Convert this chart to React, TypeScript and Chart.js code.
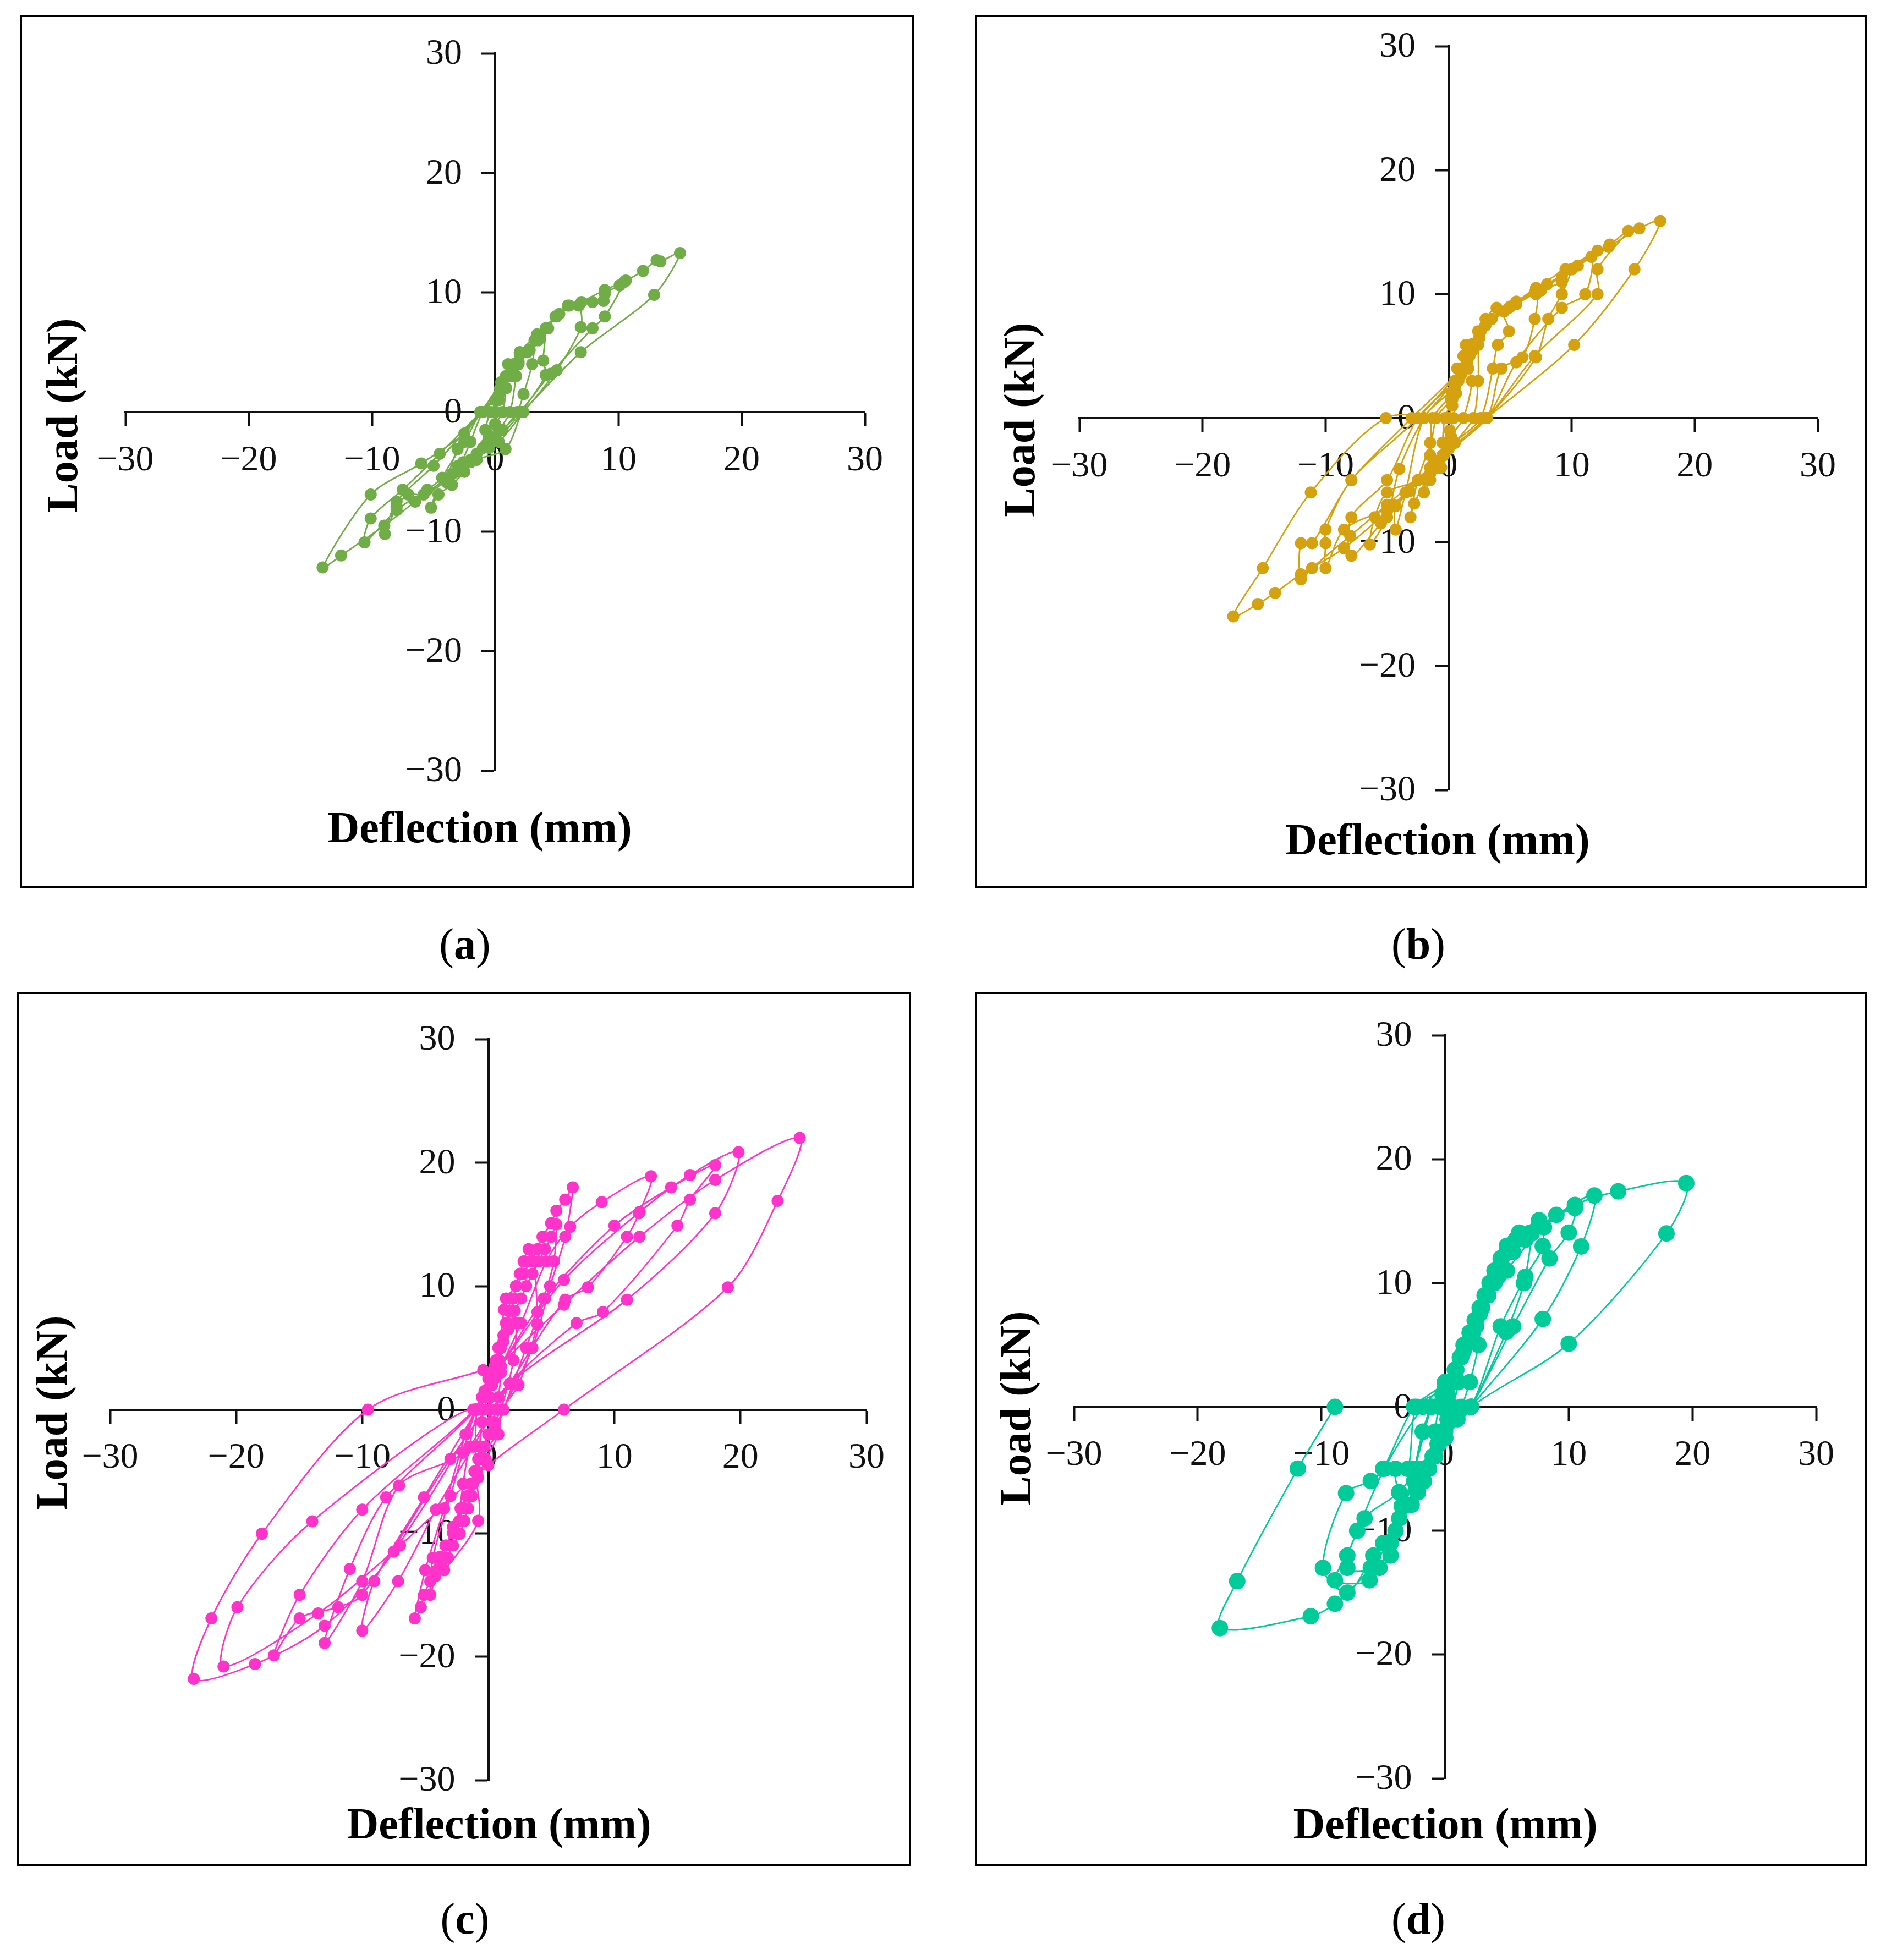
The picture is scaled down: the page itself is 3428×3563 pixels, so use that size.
import React, { useEffect, useRef } from "react";
import { Chart, registerables } from "chart.js";

Chart.register(...registerables);

// ---------------- Data (deflection in mm, load in kN) ----------------
const TICK_STEP = 10;
const AXIS_MIN = -30;
const AXIS_MAX = 30;

// (a)
const aDefl = [
  0, 0.3, 0.6, 0.85, 1.05, 0.9, 0.6, 0, -0.5, -1.0, -0.8, -0.4,
  0.2, 0.6, 1.0, 1.5, 2.0, 1.7, 1.2, 0.3, -0.6, -1.5, -2.6, -2.0, -1.0,
  0, 0.7, 1.3, 1.9, 2.6, 3.2, 3.0, 2.3, 1.8, 0.6, -0.8, -2.0, -3.0, -3.9, -3.05, -1.16,
  0.3, 1.0, 1.9, 2.8, 3.6, 4.1, 3.9, 4.1, 2.2, 0.84, -1.5, -2.5, -3.5, -4.6, -5.2, -4.3, -2.5, -1.16,
  0.4, 1.5, 2.6, 3.5, 4.3, 4.9, 5.9, 6.8, 6.95, 5.0, 2.3, 0.3, -2.0, -4.0, -5.8, -7.05, -8.0, -8.95, -8.0, -5.0, -1.16,
  0.5, 2.0, 3.2, 4.2, 5.0, 6.0, 7.9, 8.8, 8.9, 10.1, 10.5, 8.9, 7.9, 4.5, 2.0, -0.5, -3.0, -5.5, -8.0, -10.6, -10.1, -7.5, -4.5, -1.2,
  0.5, 2.0, 3.4, 5.2, 7.0, 8.9, 10.6, 12.0, 13.1, 13.4, 15.0, 12.9, 6.95, 2.2, -0.5, -3.5, -6.5, -9.0, -12.5, -14.0, -10.1, -6.0, -2.5, -1.2, 0,
];
const aLoad = [
  0, 1, 2, 3, 4, 2, 0, -1, -2, -3, -1.5, 0,
  1, 2, 3, 4, 5, 3, 0, -1.5, -2.5, -3.5, -4.2, -2.5, 0,
  1, 2, 3, 4, 5, 6, 4, 1.5, 0, -1.5, -2.8, -4, -5, -5.9, -3.1, 0,
  1.5, 3, 4.2, 5.2, 6.2, 7, 4.3, 3.1, 0, -3.1, -4, -5, -6.1, -6.9, -8, -5.5, -2.5, 0,
  2, 3.6, 5, 6, 7, 8, 8.9, 8.9, 7.1, 3.5, 0, -2.5, -4.2, -5.8, -6.9, -6.9, -7.95, -10.2, -7.5, -4.5, 0,
  2.5, 4.8, 6, 7, 8, 8.9, 9.2, 9.3, 9.9, 10.6, 10.9, 8.0, 7.0, 3.2, 0, -2.5, -4.5, -6.5, -8.2, -10.9, -8.9, -6.5, -3.5, 0,
  2.5, 5, 6.5, 8.2, 9.2, 10.2, 11, 11.8, 12.7, 12.6, 13.3, 9.8, 5.0, 0, -3, -5.2, -7.5, -9.5, -12.0, -13.0, -6.9, -4.3, -1.8, 0, 0,
];

// (b)
const bDefl = [
  0, 0.3, 0.5, 0.6, 0.7, 0.6, 0.4, 0.1, -0.2, -0.4, -0.6, -0.5, -0.3,
  0.3, 0.6, 0.9, 1.2, 1.4, 1.6, 1.9, 1.2, 0.2, -0.4, -0.9, -1.5, -2.0, -1.5, -1.0,
  0.2, 0.8, 1.2, 1.6, 2.0, 2.4, 2.4, 2.4, 2.0, 0.5, -0.8, -1.8, -2.8, -3.1, -2.5, -1.5, -1.3,
  0.3, 1.0, 1.7, 2.3, 2.6, 3.0, 3.9, 4.9, 4.0, 3.6, 2.6, 0.5, -1.5, -3.2, -4.3, -4.3, -3.5, -2.0,
  0.5, 1.5, 2.5, 3.5, 4.9, 7.1, 7.0, 6.0, 4.3, 3.1, 0, -2.5, -5.0, -6.0, -6.4, -5.0, -4.0, -2.0,
  0.5, 2.0, 3.5, 5.5, 7.5, 9.2, 10.0, 9.2, 8.1, 7.1, 3.1, -0.5, -3.2, -5.5, -7.9, -7.9, -5.0, -2.5,
  1.0, 2.5, 4.5, 7.0, 9.2, 11.6, 11.1, 9.2, 5.5, 3.1, -1.0, -4.5, -8.5, -10.0, -10.0, -10.0, -7.9, -2.5,
  1.0, 3.0, 5.0, 7.1, 9.5, 12.1, 13.1, 14.6, 12.1, 12.1, 7.0, 3.1, -1.5, -5.0, -8.0, -11.1, -12.0, -12.0, -11.1, -7.9, -3.0,
  1.0, 3.0, 5.5, 8.0, 10.5, 13.0, 15.5, 17.2, 15.1, 10.2, 3.1, -1.5, -5.0, -8.5, -12.0, -14.1, -15.5, -17.5, -15.1, -11.2, -5.1, 0,
];
const bLoad = [
  0, 1, 2, 3, 4, 2, 0, -1, -2, -3, -4, -2, 0,
  1.5, 3, 4, 5, 5.9, 4, 3.0, 0, -1.5, -3, -4, -5, -6.0, -3, 0,
  1.5, 3, 4, 5, 6, 7, 5.9, 3.0, 0, -2, -3.5, -5, -6.9, -8, -5, -2, 0,
  2, 3.5, 5, 6, 7, 8, 8.9, 7.0, 5.9, 4.0, 0, -2, -4.5, -5.9, -7.1, -9.0, -6, 0,
  2.5, 4.5, 6.5, 8, 8.9, 10.0, 8.0, 4.9, 4.0, 0, -2.5, -5, -6.0, -8.0, -10.2, -8.0, -4.1, 0,
  3, 5.5, 8, 9.2, 10.3, 11.0, 12.0, 10.0, 8.0, 4.9, 0, -3, -5.9, -8.5, -11.1, -8.0, -5.0, 0,
  3.5, 6.5, 8.6, 10.1, 11.4, 13.0, 10.0, 8.9, 4.5, 0, -3.5, -7.0, -9.0, -12.1, -10.1, -9.0, -5.0, 0,
  4, 7.5, 9.0, 10.5, 12, 13.5, 14.0, 15.1, 12.0, 10.0, 5.0, 0, -4, -7.0, -9.5, -12.1, -13.0, -10.1, -10.1, -5.0, 0,
  4, 7.5, 9.4, 10.8, 12.3, 13.8, 15.3, 15.9, 12.0, 5.9, 0, -4, -7.5, -10.5, -12.6, -14.1, -15.0, -16.0, -12.1, -6.0, 0, 0,
];

// (c)
const cDefl = [
  0, 0.1, 0.3, 0.4, 0.6, 0.8, 1.0, 0.8, 0.6, 0.3, 0, -0.3, -0.6, -0.9, -0.7, -0.5, -0.4,
  0, 0.3, 0.6, 0.8, 1.0, 1.2, 1.4, 1.6, 1.8, 2.2, 2.0, 1.0, 0.5, 0, -0.4, -0.8, -1.1, -1.4, -1.7, -2.0, -2.3, -2.0, -1.5, -0.8,
  -0.2, 0.4, 0.9, 1.2, 1.5, 1.8, 2.0, 2.2, 2.5, 2.8, 3.2, 3.6, 3.9, 3.9, 2.4, 1.1, 0.8, -0.2, -0.8, -1.3, -1.6, -1.9, -2.26, -2.8, -3.2, -3.5, -0.8, -1.0, -0.9,
  -0.3, 0.5, 1.0, 1.6, 2.1, 2.6, 3.0, 3.5, 4.0, 4.5, 5.0, 5.4, 5.2, 4.4, 3.0, 1.2, 0.5, -0.6, -1.4, -2.2, -2.8, -3.3, -3.8, -4.2, -4.6, -4.4, -3.0, -1.0,
  -0.5, 0.2, 0.8, 1.25, 1.4, 2.2, 2.8, 3.3, 3.9, 4.3, 4.98, 5.4, 6.1, 6.7, 6.1, 4.9, 3.5, 1.2, 0.6, -0.5, -1.2, -2.0, -2.8, -3.4, -3.8, -4.07, -4.6, -5.1, -5.35, -5.83, -5.0, -3.5, -1.8, -1.0,
  0.5, 2.6, 4.6, 6.5, 9.0, 12.9, 11.95, 11.0, 7.9, 6.1, 1.7, -1.2, -4.15, -7.15, -10.0, -9.04, -5.1, -0.9,
  1.0, 4.5, 10.0, 14.5, 18.0, 16.0, 15.0, 9.1, 7.0, 1.7, -2.0, -7.07, -10.0, -12.98, -10.98, -8.1, -1.0,
  1.0, 6.0, 12.0, 16.0, 19.85, 18.0, 11.0, 1.7, -3.0, -10.0, -11.9, -14.96, -17.0, -14.96, -10.0, -1.1,
  0, 6.0, 12.0, 18.0, 24.7, 22.95, 19.0, 6.0, 0, -7.0, -13.5, -21.0, -19.9, -13.96, -1.2,
  -7.5, -12.98, -18.5, -23.36, -21.96, -17.96, -9.55, -0.4,
];
const cLoad = [
  0, 1, 2, 3, 4, 5, 3, 1, 0, -1, -2, -3, -4, -5, -3, -1, 0,
  1, 2, 3, 4, 5, 6, 7, 8, 9, 7, 4, 0, -1, -2, -3, -4, -5, -6, -7, -8, -9, -6, -3, 0,
  1, 2.5, 4, 5.5, 7, 8, 9, 10, 11, 12, 13, 12, 7.9, 6.9, 2, 0, -2, -4, -5.5, -7, -8, -9, -10.05, -11, -12, -13, -9, -5, 0,
  1.5, 3.5, 5, 6.5, 8, 9, 10, 11, 12, 13, 14, 15, 12, 9, 5, 0, -1.5, -4, -6, -8, -9.5, -11, -12.5, -13.5, -15, -12, -7, 0,
  1, 3, 5, 8.1, 9, 10, 11, 12, 13, 14, 15.1, 16.1, 17, 18, 14.0, 10, 5, 0, -2, -4, -6, -8, -10, -11, -11.9, -13, -13.9, -15, -16, -16.9, -13, -8, -2, 0,
  2.5, 7.0, 12.0, 14.8, 16.8, 18.9, 15.9, 14.0, 9.9, 8.9, 2.1, -3.0, -8.1, -13.9, -17.9, -13.9, -7.1, 0,
  3.5, 9.0, 14.9, 18.0, 19.8, 17.0, 14.9, 7.9, 7.0, 2.1, -3.5, -6.15, -13.9, -18.9, -12.9, -7.1, 0,
  3.5, 10.5, 16.0, 19.0, 20.85, 15.9, 8.9, 2.1, -4.0, -15.0, -16.0, -16.9, -19.9, -15.0, -8.1, 0,
  2.5, 8.5, 14.0, 18.6, 22.0, 16.9, 9.9, 0, -4.5, -11.0, -16.5, -20.8, -16.0, -9.04, 0,
  -11.5, -17.5, -20.6, -21.8, -16.9, -10.05, 0, 3.2,
];

// (d)
const dDefl = [
  0, 0.2, 0.5, 0.9, 1.3, 1.1, 0.6, 0.2, -0.2, -0.6, -1.0, -0.8, -0.5,
  0, 0.5, 0.9, 1.3, 1.7, 2.1, 2.5, 2.9, 2.7, 2.0, 1.3, 0.5, 0, -0.5, -0.9, -1.3, -1.7, -2.2, -2.4, -1.8, -1.1,
  -0.2, 0.4, 0.8, 1.2, 1.6, 2.0, 2.4, 2.8, 3.2, 3.6, 4.0, 4.5, 5.0, 6.0, 6.9, 6.37, 4.95, 2.1, 1.0, 0, -0.8, -1.5, -2.2, -2.7, -3.7, -4.0, -3.0, -2.3,
  0, 0.8, 1.5, 2.2, 2.8, 3.5, 4.3, 5.0, 5.7, 7.6, 7.9, 6.5, 4.5, 2.1, -0.5, -2.5, -3.7, -4.4, -5.3, -7.9, -6.5, -3.7, -2.5, -1.1,
  0, 1.5, 3.0, 4.3, 5.5, 7.0, 10.5, 10.0, 8.45, 5.5, 2.1, 0, -2.0, -3.3, -4.4, -6.1, -8.9, -7.9, -7.1, -4.9, -1.8,
  0, 2.0, 4.0, 6.5, 9.0, 12.07, 11.0, 7.9, 2.1, 0, -2.2, -3.5, -5.0, -5.8, -7.9, -9.87, -8.0, -6.0, -5.0, -2.5,
  0, 2.5, 5.0, 8.0, 10.5, 14.0, 19.5, 17.9, 10.0, 2.1, 0, -2.2, -4.0, -6.0, -8.9, -10.85, -18.2, -16.8, -11.9, -8.9,
];
const dLoad = [
  0, 1, 2, 3, 4, 2, 0, -1, -2, -3, -4, -2, 0,
  1, 2, 3, 4, 5, 6, 7, 8, 5, 2, 0, -1, -2, -3, -4, -5, -6, -6.9, -5, -2, 0,
  1, 2, 3, 4, 5, 6, 7, 8, 9, 10, 11, 12, 13, 14.07, 14.07, 9.99, 6.05, 0, -1, -2.5, -4, -5, -6, -7.9, -6.9, -5, -5, 0,
  1.5, 3, 4.5, 6, 7.5, 9, 11, 12.5, 13.5, 15.07, 12.98, 10.5, 6.5, 0, -3, -6, -9, -12.0, -13.0, -13.0, -9.0, -6.9, -5.0, 0,
  2, 5, 8, 10.5, 12.5, 14.0, 16.06, 14.07, 11.98, 6.5, 0, -2.5, -5, -8, -11, -14.0, -14.0, -12.0, -10.0, -4.98, 0,
  2, 6, 10, 13.5, 15.5, 17.06, 12.95, 7.1, 0, -2.5, -5, -8, -11, -12.0, -15.0, -13.0, -6.97, -5.98, -5.0, 0,
  2, 6.5, 11, 14.5, 16.3, 17.4, 18.06, 14.0, 5.1, 0, -2.5, -6.0, -10, -13.0, -15.9, -16.9, -17.86, -14.07, -4.98, 0,
];

const X_TITLE = "Deflection (mm)";
const Y_TITLE = "Load (kN)";

// ---------------- Layout ----------------
const FONT = '"Liberation Serif", "Times New Roman", serif';
const TICK_SIZE = 66;
const TICK_FONT = `${TICK_SIZE}px ${FONT}`;
const TICK_LEN = 23;

type PanelSpec = {
  letter: string;
  xs: number[];
  ys: number[];
  color: string;
  radius: number;
  box: { l: number; t: number; r: number; b: number };
  area: { l: number; t: number; r: number; b: number };
  yTitle: { x: number; y: number };
  xTitle: { x: number; y: number };
  caption: { x: number; y: number };
};

const PANELS: PanelSpec[] = [
  {
    letter: "a", xs: aDefl, ys: aLoad, color: "#70AD47", radius: 11,
    box: { l: 36, t: 27, r: 1661, b: 1615 },
    area: { l: 228, t: 97, r: 1572, b: 1401 },
    yTitle: { x: 119, y: 755 }, xTitle: { x: 872, y: 1510 }, caption: { x: 845, y: 1716 },
  },
  {
    letter: "b", xs: bDefl, ys: bLoad, color: "#D5A10E", radius: 11,
    box: { l: 1772, t: 27, r: 3394, b: 1615 },
    area: { l: 1962, t: 84, r: 3304, b: 1436 },
    yTitle: { x: 1859, y: 763 }, xTitle: { x: 2613, y: 1532 }, caption: { x: 2578, y: 1716 },
  },
  {
    letter: "c", xs: cDefl, ys: cLoad, color: "#FF33CC", radius: 11,
    box: { l: 30, t: 1803, r: 1656, b: 3392 },
    area: { l: 200, t: 1889, r: 1575, b: 3236 },
    yTitle: { x: 100, y: 2568 }, xTitle: { x: 907, y: 3321 }, caption: { x: 845, y: 3488 },
  },
  {
    letter: "d", xs: dDefl, ys: dLoad, color: "#00CC99", radius: 15,
    box: { l: 1772, t: 1803, r: 3394, b: 3392 },
    area: { l: 1952, t: 1882, r: 3301, b: 3233 },
    yTitle: { x: 1852, y: 2560 }, xTitle: { x: 2627, y: 3321 }, caption: { x: 2578, y: 3488 },
  },
];

const fmt = (v: number | string) => {
  const n = Number(v);
  return n < 0 ? "\u2212" + Math.abs(n) : String(n);
};

function Panel({ p }: { p: PanelSpec }) {
  const ref = useRef<HTMLCanvasElement | null>(null);
  const w = p.box.r - p.box.l;
  const h = p.box.b - p.box.t;

  useEffect(() => {
    const canvas = ref.current;
    if (!canvas) return;
    const textPlugin = {
      id: "axisText" + p.letter,
      beforeDatasetsDraw(chart: any) {
        // y tick labels, to the left of the centred y axis
        const ctx = chart.ctx as CanvasRenderingContext2D;
        const xs = chart.scales.x;
        const ys = chart.scales.y;
        const axisX = xs.getPixelForValue(0);
        ctx.save();
        ctx.fillStyle = "#111";
        ctx.font = TICK_FONT;
        ctx.textAlign = "right";
        ctx.textBaseline = "middle";
        for (const t of ys.ticks) {
          ctx.fillText(fmt(t.value), axisX - TICK_LEN - 37, ys.getPixelForValue(t.value) + 2);
        }
        ctx.restore();
      },
      afterDraw(chart: any) {
        const ctx = chart.ctx as CanvasRenderingContext2D;
        ctx.save();
        ctx.fillStyle = "#000";
        ctx.font = `bold 80px ${FONT}`;
        ctx.textAlign = "center";
        ctx.textBaseline = "middle";
        ctx.fillText(X_TITLE, p.xTitle.x - p.box.l, p.xTitle.y - p.box.t);
        ctx.translate(p.yTitle.x - p.box.l, p.yTitle.y - p.box.t);
        ctx.rotate(-Math.PI / 2);
        ctx.fillText(Y_TITLE, 0, 0);
        ctx.restore();
      },
    };
    const axisCommon = {
      type: "linear" as const,
      min: AXIS_MIN,
      max: AXIS_MAX,
      grid: {
        display: true,
        drawOnChartArea: false,
        drawTicks: true,
        tickLength: TICK_LEN,
        tickWidth: 4,
        tickColor: "#111",
      },
      border: { display: true, color: "#111", width: 4 },
    };
    const chart = new Chart(canvas, {
      type: "scatter",
      data: {
        datasets: [
          {
            data: p.xs.map((x, i) => ({ x, y: p.ys[i] })),
            showLine: true,
            borderColor: p.color,
            backgroundColor: p.color,
            pointBackgroundColor: p.color,
            pointBorderColor: p.color,
            pointBorderWidth: 0,
            pointRadius: p.radius,
            pointHoverRadius: p.radius,
            borderWidth: 2.8,
            tension: 0.3,
            fill: false,
          } as any,
        ],
      },
      options: {
        responsive: false,
        maintainAspectRatio: false,
        animation: false,
        events: [],
        layout: {
          padding: {
            left: p.area.l - p.box.l,
            top: p.area.t - p.box.t,
            right: p.box.r - p.area.r,
            bottom: p.box.b - p.area.b,
          },
        },
        plugins: {
          legend: { display: false },
          tooltip: { enabled: false },
          title: { display: false },
        },
        scales: {
          x: {
            ...axisCommon,
            position: { y: 0 } as any,
            ticks: {
              stepSize: TICK_STEP,
              autoSkip: false,
              maxRotation: 0,
              padding: 26,
              color: "#111",
              font: { family: FONT, size: TICK_SIZE },
              callback: (v: any) => fmt(v),
            },
          },
          y: {
            ...axisCommon,
            position: { x: 0 } as any,
            ticks: {
              display: false,
              stepSize: TICK_STEP,
              autoSkip: false,
            },
          },
        },
      } as any,
      plugins: [textPlugin],
    });
    return () => chart.destroy();
  }, []);

  return (
    <>
      <canvas
        ref={ref}
        width={w}
        height={h}
        style={{ position: "absolute", left: p.box.l, top: p.box.t, width: w, height: h }}
      />
      <div
        style={{
          position: "absolute",
          left: p.box.l,
          top: p.box.t,
          width: w,
          height: h,
          border: "4px solid #000",
          boxSizing: "border-box",
          pointerEvents: "none",
        }}
      />
      <div
        style={{
          position: "absolute",
          left: p.caption.x,
          top: p.caption.y,
          transform: "translate(-50%, -50%)",
          fontFamily: FONT,
          fontSize: 80,
          lineHeight: 1,
          color: "#000",
          whiteSpace: "nowrap",
        }}
      >
        (<b>{p.letter}</b>)
      </div>
    </>
  );
}

export default function App() {
  return (
    <div
      style={{
        position: "absolute",
        left: 0,
        top: 0,
        width: 3428,
        height: 3563,
        background: "#fff",
        overflow: "hidden",
      }}
    >
      {PANELS.map((p) => (
        <Panel key={p.letter} p={p} />
      ))}
    </div>
  );
}
